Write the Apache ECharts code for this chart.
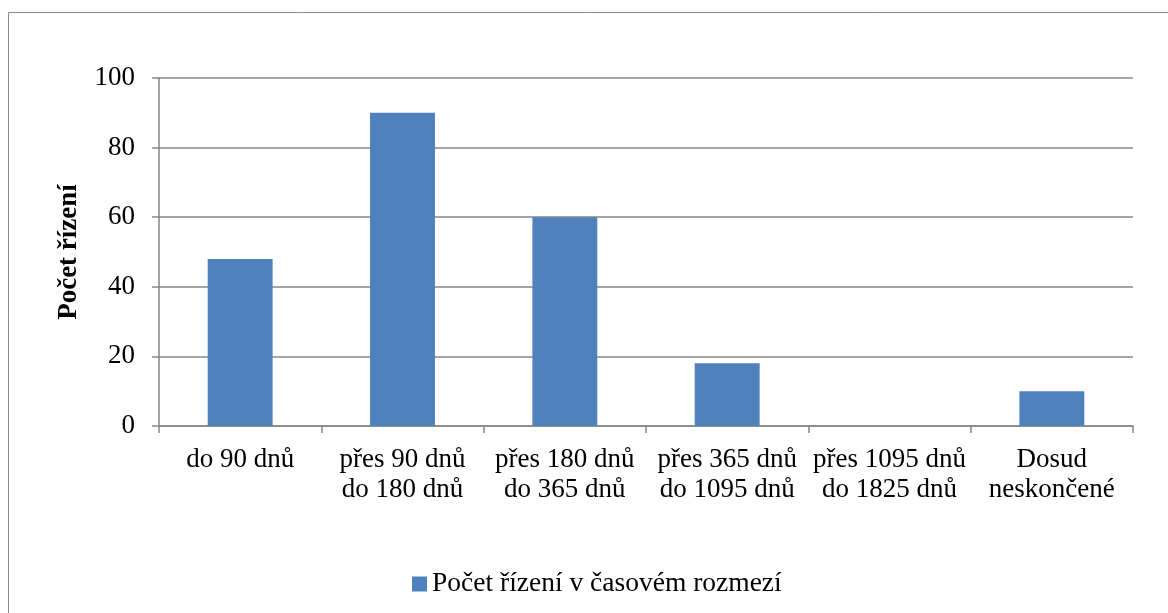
<!DOCTYPE html>
<html><head><meta charset="utf-8">
<script src="https://cdn.jsdelivr.net/npm/echarts@6/dist/echarts.min.js"></script>
<style>html,body{margin:0;padding:0;background:#fff}#c{width:1168px;height:613px}</style>
</head><body><div id="c"></div>
<script>
const categories = ['do 90 dnů', 'přes 90 dnů\ndo 180 dnů', 'přes 180 dnů\ndo 365 dnů', 'přes 365 dnů\ndo 1095 dnů', 'přes 1095 dnů\ndo 1825 dnů', 'Dosud\nneskončené'];
const values = [48, 90, 60, 18, 0, 10];
const seriesName = 'Počet řízení v časovém rozmezí';
const yAxisTitle = 'Počet řízení';
const font = '"Liberation Serif", "DejaVu Serif", serif';
const fs = 27;
const chart = echarts.init(document.getElementById('c'));
chart.setOption({
  animation: false,
  textStyle: { fontFamily: font },
  graphic: [{ type: 'rect', shape: { x: 8.5, y: 12.5, width: 1300, height: 800 }, style: { fill: 'none', stroke: '#8a8a8a', lineWidth: 1 }, silent: true }],
  grid: { left: 159, right: 35, top: 78, bottom: 187 },
  legend: { top: 565, left: 407, itemWidth: 15, itemHeight: 15, itemGap: 6, icon: 'rect',
    textStyle: { fontFamily: font, fontSize: 27.5, color: '#000' }, data: [seriesName] },
  xAxis: { type: 'category', data: categories,
    axisLine: { lineStyle: { color: '#868686', width: 1.5 } },
    axisTick: { show: true, length: 7, lineStyle: { color: '#868686', width: 1.5 } },
    axisLabel: { fontFamily: font, fontSize: fs, color: '#000', lineHeight: 30, margin: 19, interval: 0 } },
  yAxis: { type: 'value', min: 0, max: 100, interval: 20, name: yAxisTitle, nameLocation: 'middle', nameGap: 76, nameRotate: 90,
    nameTextStyle: { fontFamily: font, fontSize: fs, fontWeight: 'bold', color: '#000' },
    axisLine: { show: true, lineStyle: { color: '#868686', width: 1.5 } },
    axisTick: { show: true, length: 7, lineStyle: { color: '#868686', width: 1.5 } },
    axisLabel: { fontFamily: font, fontSize: fs, color: '#000', margin: 24 },
    splitLine: { lineStyle: { color: '#868686', width: 1.5 } } },
  series: [{ name: seriesName, type: 'bar', data: values, barWidth: '40%',
    itemStyle: { color: '#4F81BD' } }]
});
</script></body></html>
